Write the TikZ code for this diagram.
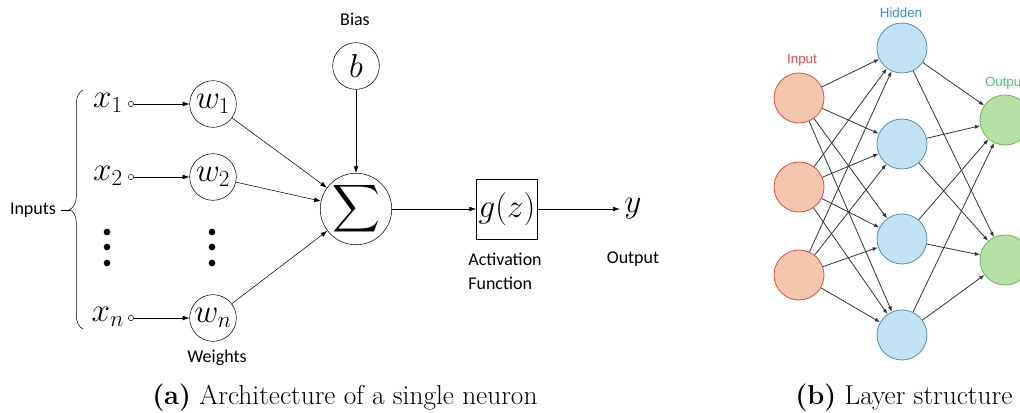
\documentclass[tikz,border=0pt]{standalone}
\usepackage{exscale}
\usepackage{fontspec}
\newfontfamily\calibri{Carlito}
\newfontfamily\helv{Liberation Sans}
\usetikzlibrary{arrows.meta,positioning,calc,decorations.pathreplacing}
\definecolor{inedge}{RGB}{232,72,72}
\definecolor{infill}{RGB}{244,198,172}
\definecolor{hidedge}{RGB}{90,140,176}
\definecolor{hidfill}{RGB}{193,226,242}
\definecolor{outedge}{RGB}{104,182,90}
\definecolor{outfill}{RGB}{182,224,164}
\definecolor{hidtext}{RGB}{60,140,210}
\definecolor{outtext}{RGB}{76,196,112}

\begin{document}
\begin{tikzpicture}[x=0.75pt,y=-0.75pt,>={Latex[length=5pt,width=3.5pt]},
  bigmath/.style={font=\fontsize{24}{28}\selectfont},
  lbl/.style={font=\calibri\fontsize{13.5}{16}\selectfont,align=center},
  wcirc/.style={draw,circle,minimum size=35pt,inner sep=0pt,bigmath},
  port/.style={draw,circle,minimum size=4pt,inner sep=0pt},
  vdot/.style={fill,circle,minimum size=5pt,inner sep=0pt},
  neuron/.style={circle,minimum size=37.5pt,inner sep=0pt,line width=0.6pt},
  netlbl/.style={font=\helv\fontsize{10}{12}\selectfont},
  netedge/.style={->,black!80,line width=0.6pt,>={Latex[length=4pt,width=3pt]}},
  captxt/.style={font=\fontsize{20.5}{24}\selectfont,anchor=base west,inner sep=0pt}]
  \useasboundingbox (0,0) rectangle (1020,412);
  \clip (0,0) rectangle (1020,412);

  \node[bigmath] (x1) at (108,103) {$x_1$};
  \node[bigmath] (x2) at (108,176) {$x_2$};
  \node[bigmath] (xn) at (108,317) {$x_n$};
  \node[port] (p1) at (131,104) {};
  \node[port] (p2) at (131,177) {};
  \node[port] (pn) at (131,318) {};
  \node[wcirc] (w1) at (213,104) {$w_1$};
  \node[wcirc] (w2) at (213,177) {$w_2$};
  \node[wcirc] (wn) at (213,318) {$w_n$};
  \foreach \y [count=\k] in {232,247,263} {
    \node[vdot] (dl\k) at (107,\y) {};
    \node[vdot] (dr\k) at (212,\y) {};
  }
  \coordinate (bt) at (83,90);
  \coordinate (bb) at (83,329);
  \draw[decorate,decoration={brace,amplitude=10pt}] (bb) -- (bt);
  \coordinate (btip) at (70,210);
  \node[lbl] (inputs) at (33,210) {Inputs};
  \draw (inputs.east) -- (btip);
  \node[lbl] (weights) at (217,358) {Weights};

  \node[wcirc] (b) at (356,66) {$b$};
  \node[lbl] (bias) at (355,19) {Bias};
  \node[draw,circle,minimum size=52pt,inner sep=0pt] (sum) at (356,209)
    {\fontsize{24}{28}\selectfont$\displaystyle\sum$};
  \node[draw,minimum width=46pt,minimum height=45pt,inner sep=0pt,bigmath] (g) at (507,209) {$g(z)$};
  \node[bigmath] (y) at (633,209) {$y$};
  \node[lbl,align=left] (act) at (505,271) {Activation\\[2pt]Function};
  \node[lbl] (out) at (633,259) {Output};

  \foreach \k in {1,2,n} \draw[->] (p\k) -- (w\k);
  \foreach \k in {1,2,n} \draw[->] (w\k) -- (sum);
  \draw[->] (b) -- (sum);
  \draw[->] (sum) -- (g);
  \draw[->] (g) -- (y);

  \foreach \y [count=\k] in {98,187,275}
    \node[neuron,draw=inedge,fill=infill] (i\k) at (799,\y) {};
  \foreach \y [count=\k] in {48,144,239,335}
    \node[neuron,draw=hidedge,fill=hidfill] (h\k) at (902,\y) {};
  \foreach \y [count=\k] in {120,260}
    \node[neuron,draw=outedge,fill=outfill] (o\k) at (1005,\y) {};
  \node[netlbl,text=inedge] (inlbl) at (802,60) {Input};
  \node[netlbl,text=hidtext] (hidlbl) at (901,13) {Hidden};
  \node[netlbl,text=outtext] (outlbl) at (1005,83) {Output};
  \foreach \i in {1,2,3}
    \foreach \h in {1,...,4}
      \draw[netedge] (i\i) -- (h\h);
  \foreach \h in {1,...,4}
    \foreach \o in {1,2}
      \draw[netedge] (h\h) -- (o\o);

  \node[captxt] (capa) at (152,404) {\textbf{(a)} Architecture of a single neuron};
  \node[captxt] (capb) at (795,404) {\textbf{(b)} Layer structure};
\end{tikzpicture}
\end{document}
